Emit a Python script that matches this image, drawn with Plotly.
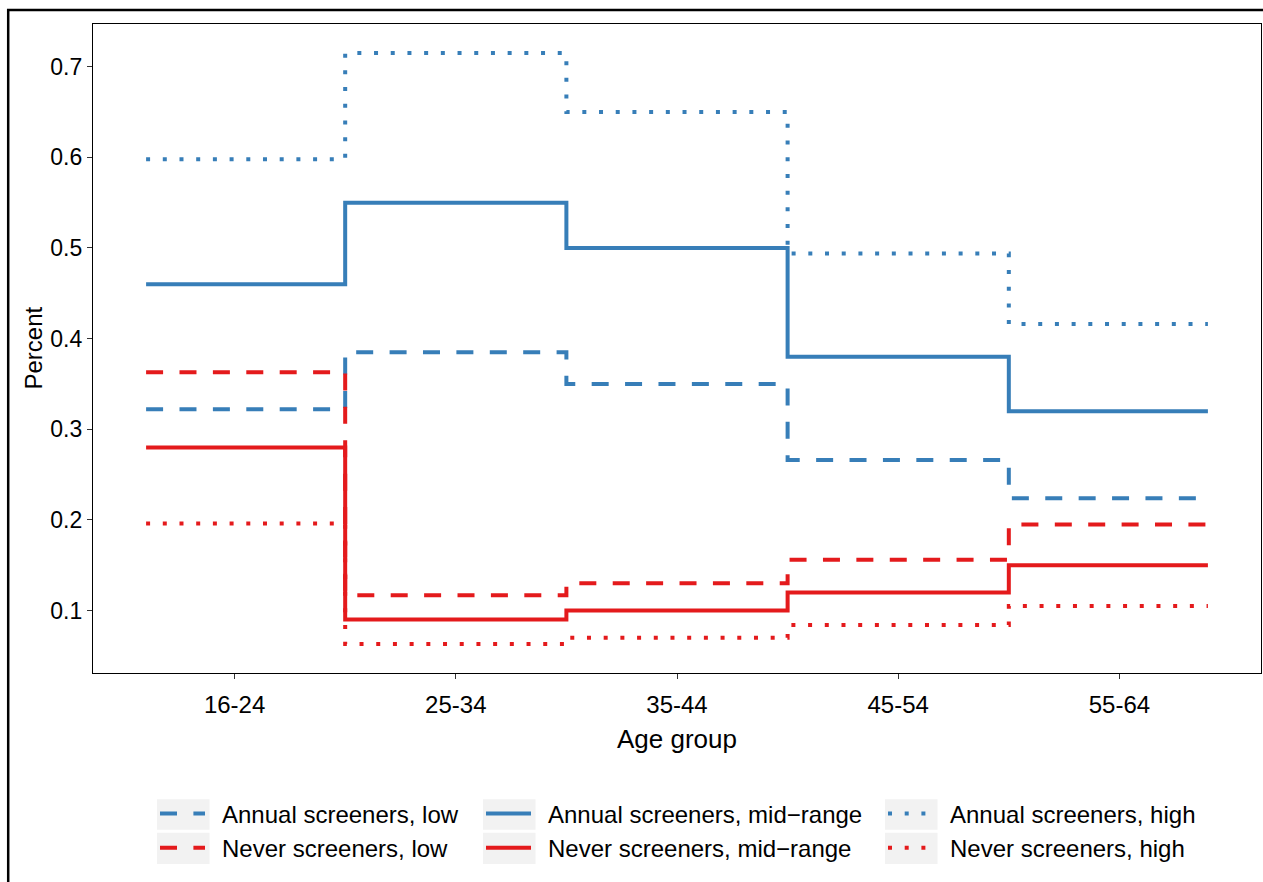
import plotly.graph_objects as go

# ---------------- data ----------------
age_groups = ["16-24", "25-34", "35-44", "45-54", "55-64"]
annual_low = [0.322, 0.385, 0.350, 0.266, 0.224]
annual_mid = [0.460, 0.550, 0.500, 0.380, 0.320]
annual_high = [0.598, 0.715, 0.650, 0.494, 0.416]
never_low = [0.363, 0.117, 0.130, 0.156, 0.195]
never_mid = [0.280, 0.090, 0.100, 0.120, 0.150]
never_high = [0.196, 0.063, 0.070, 0.084, 0.105]
y_ticks = [0.1, 0.2, 0.3, 0.4, 0.5, 0.6, 0.7]

BLUE = "#377EB8"
RED = "#E41A1C"
DASH = "17px,16.4px"
DOT = "4px,12.7px"

# body margin removed by post_script below
OFF = 0
W, H = 1263 - OFF, 882 - OFF
# plot area in page pixels
P_L, P_R, P_T, P_B = 93, 1261, 24, 672.7
ML = P_L - OFF
MR = W - (P_R - OFF)
MT = P_T - OFF
MB = H - (P_B - OFF)
PW = P_R - P_L
PH = P_B - P_T


def px_x(p):
    return (p - P_L) / PW


def px_y(p):
    return (P_B - p) / PH


def step_xy(vals):
    n = len(vals)
    xs = [1 - 0.4] + [i + 0.5 for i in range(1, n)] + [n + 0.4]
    ys = list(vals) + [vals[-1]]
    return xs, ys


SP = "\u2002"
series = [
    ("Annual screeners, low", annual_low, BLUE, DASH, "legend"),
    ("Annual screeners, mid\u2212range", annual_mid, BLUE, "solid", "legend2"),
    ("Annual screeners, high", annual_high, BLUE, DOT, "legend3"),
    ("Never screeners, low", never_low, RED, DASH, "legend"),
    ("Never screeners, mid\u2212range", never_mid, RED, "solid", "legend2"),
    ("Never screeners, high", never_high, RED, DOT, "legend3"),
]

fig = go.Figure()
for i, (name, vals, col, dash, leg) in enumerate(series):
    xs, ys = step_xy(vals)
    fig.add_trace(go.Scatter(
        x=xs, y=ys, mode="lines", name=SP + name, line_shape="hv",
        line=dict(color=col, width=4, dash=dash),
        legend=leg, legendgroup=f"g{i}",
    ))

FONT = "Liberation Sans, Arial, Helvetica, sans-serif"

leg_common = dict(
    orientation="v", bgcolor="rgba(0,0,0,0)", borderwidth=0,
    font=dict(family=FONT, size=24, color="black"),
    itemwidth=45, tracegroupgap=0,
    xanchor="left", yanchor="top", y=px_y(791),
)

layout_legends = dict(
    legend=dict(x=px_x(155), **leg_common),
    legend2=dict(x=px_x(481), **leg_common),
    legend3=dict(x=px_x(883), **leg_common),
)

shapes = []
# legend key backgrounds
for cx in (157, 483, 885):
    for (y0, y1) in ((799, 829.5), (832.5, 863.5)):
        shapes.append(dict(type="rect", xref="paper", yref="paper",
                           x0=px_x(cx), x1=px_x(cx + 52.5), y0=px_y(y1), y1=px_y(y0),
                           fillcolor="#F2F2F2", line=dict(width=0), layer="below"))
# outer frame lines
shapes.append(dict(type="line", xref="paper", yref="paper",
                   x0=px_x(8.2), x1=px_x(8.2), y0=px_y(882), y1=px_y(9),
                   line=dict(color="black", width=2.5)))
shapes.append(dict(type="line", xref="paper", yref="paper",
                   x0=px_x(7), x1=px_x(1263), y0=px_y(10), y1=px_y(10),
                   line=dict(color="black", width=2.5)))

annotations = [
    dict(text="Age group", xref="paper", yref="paper", x=0.5, y=px_y(739),
         xanchor="center", yanchor="middle", showarrow=False,
         font=dict(family=FONT, size=26, color="black")),
    dict(text="Percent", xref="paper", yref="paper", x=px_x(33), y=0.5,
         xanchor="center", yanchor="middle", showarrow=False, textangle=-90,
         font=dict(family=FONT, size=24, color="black")),
]

fig.update_layout(
    width=W, height=H,
    margin=dict(l=ML, r=MR, t=MT, b=MB, pad=0),
    plot_bgcolor="white", paper_bgcolor="white",
    font=dict(family=FONT, color="black"),
    showlegend=True,
    shapes=shapes,
    annotations=annotations,
    **layout_legends,
)

fig.update_xaxes(
    range=[0.36, 5.64], tickmode="array",
    tickvals=list(range(1, len(age_groups) + 1)), ticktext=age_groups,
    ticks="outside", ticklen=5, tickwidth=1.2, tickcolor="#333333",
    ticklabelstandoff=5,
    tickfont=dict(family=FONT, size=24, color="black"),
    showgrid=False, zeroline=False,
    showline=True, mirror=True, linecolor="black", linewidth=1.2,
)
fig.update_yaxes(
    range=[0.0311, 0.7471], tickmode="array",
    tickvals=y_ticks, ticktext=[f"{v:.1f}" for v in y_ticks],
    ticks="outside", ticklen=5, tickwidth=1.2, tickcolor="#333333",
    tickfont=dict(family=FONT, size=23, color="black"),
    showgrid=False, zeroline=False,
    showline=True, mirror=True, linecolor="black", linewidth=1.2,
)

fig.write_html(
    "out.html",
    config={"displayModeBar": False},
    post_script="document.body.style.margin='0px';"
                "document.documentElement.style.overflow='hidden';"
                "document.body.style.overflow='hidden';",
)
